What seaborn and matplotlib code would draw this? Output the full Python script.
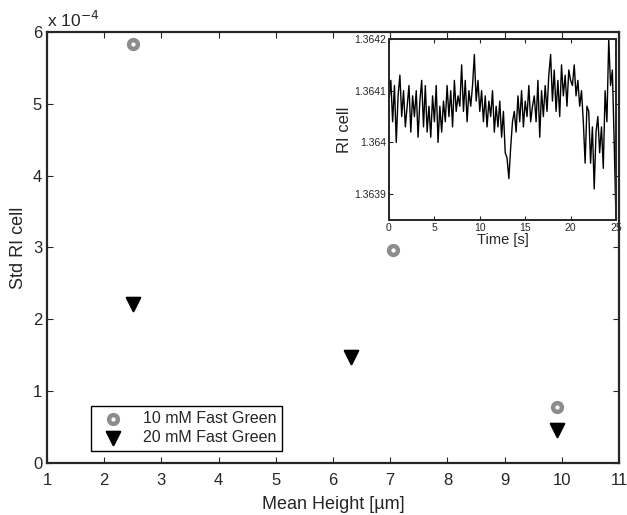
import numpy as np
import pandas as pd
import matplotlib
matplotlib.use("Agg")
import matplotlib.pyplot as plt
import seaborn as sns
from matplotlib.ticker import FuncFormatter

# main panel: std of RI vs mean cell height (std in units of 1e-4)
height_10mM = [2.5, 7.05, 9.92]
std_10mM = [5.83, 2.97, 0.78]
height_20mM = [2.5, 6.31, 9.92]
std_20mM = [2.22, 1.48, 0.46]

# inset: RI of one cell over time, sampled every 0.2 s
# values given as offsets from 1.364 in units of 1e-5
ri_base = 1.364
ri_step_s = 0.2
ri_offset = [
    8, 12, 4, 11, 0, 9, 13, 5, 10, 3,
    7, 11, 2, 9, 5, 10, 1, 8, 12, 3,
    11, 2, 7, 1, 9, 4, 11, 0, 7, 2,
    8, 4, 11, 5, 10, 3, 12, 6, 9, 7,
    15, 6, 12, 4, 10, 7, 11, 17, 8, 12,
    6, 10, 4, 9, 3, 8, 5, 10, 2, 7,
    3, 8, 1, 6, -2, -3, -7, -1, 4, 6,
    2, 9, 4, 10, 3, 8, 5, 11, 4, 7,
    9, 4, 12, 1, 10, 5, 11, 6, 13, 17,
    8, 14, 6, 12, 5, 15, 9, 13, 7, 14,
    12, 11, 15, 9, 12, 7, 10, 4, -4, 7,
    6, -4, 3, -9, 2, 5, -2, 3, -5, 10,
    4, 20, 11, 14, 0, -15,
]

sns.set_style("ticks")
plt.rcParams["font.family"] = ["Liberation Sans", "DejaVu Sans"]
plt.rcParams["xtick.direction"] = "in"
plt.rcParams["ytick.direction"] = "in"

df_pts = pd.DataFrame({
    "height": height_10mM + height_20mM,
    "std": std_10mM + std_20mM,
    "conc": ["10 mM Fast Green"] * 3 + ["20 mM Fast Green"] * 3,
})
t = np.arange(len(ri_offset)) * ri_step_s
df_ts = pd.DataFrame({"t": t, "ri": ri_base + np.array(ri_offset) * 1e-5})

fig = plt.figure(figsize=(6.27, 5.15), dpi=100)
ax = fig.add_axes([47 / 627, 1 - 463 / 515, 572 / 627, 431 / 515])

sns.scatterplot(data=df_pts[df_pts.conc == "10 mM Fast Green"], x="height", y="std",
                marker="o", s=40, facecolor="white", edgecolor="#8c8c8c",
                linewidth=3.2, label="10 mM Fast Green", ax=ax)
sns.scatterplot(data=df_pts[df_pts.conc == "20 mM Fast Green"], x="height", y="std",
                marker="v", s=95, facecolor="black", edgecolor="black",
                linewidth=1.5, label="20 mM Fast Green", ax=ax)

ax.set_xlim(1, 11)
ax.set_ylim(0, 6)
ax.set_xticks(range(1, 12))
ax.set_yticks(range(0, 7))
ax.tick_params(axis="x", pad=7)
ax.tick_params(labelsize=12, length=4, width=0.8, top=True, right=True)
for sp in ax.spines.values():
    sp.set_linewidth(1.6)
ax.set_xlabel("Mean Height [µm]", fontsize=13, labelpad=6)
ax.set_ylabel("Std RI cell", fontsize=13)
ax.text(0.0, 1.005, r"x 10$^{-4}$", transform=ax.transAxes, fontsize=12.5,
        ha="left", va="bottom")

leg = ax.legend(loc="lower left", bbox_to_anchor=(0.077, 0.028), fontsize=11.5,
                frameon=True, fancybox=False, edgecolor="black", framealpha=1,
                handletextpad=0.9, borderpad=0.35, labelspacing=0.25,
                borderaxespad=0)
leg.get_frame().set_linewidth(1.0)

# inset
axi = fig.add_axes([389 / 627, 1 - 220 / 515, 227 / 627, 181 / 515])
sns.lineplot(data=df_ts, x="t", y="ri", color="black", linewidth=1.0, ax=axi)
axi.set_xlim(0, 25)
axi.set_ylim(1.36385, 1.3642)
axi.set_xticks(range(0, 26, 5))
axi.set_yticks([1.3639, 1.364, 1.3641, 1.3642])
axi.yaxis.set_major_formatter(FuncFormatter(lambda v, p: "{:g}".format(round(v, 4))))
axi.tick_params(labelsize=7.5, length=3, width=0.8, top=True, right=True, pad=2)
for sp in axi.spines.values():
    sp.set_linewidth(1.4)
axi.set_xlabel("Time [s]", fontsize=10.5, labelpad=0)
axi.set_ylabel("RI cell", fontsize=12, labelpad=2)

fig.savefig("out.png", dpi=100)
